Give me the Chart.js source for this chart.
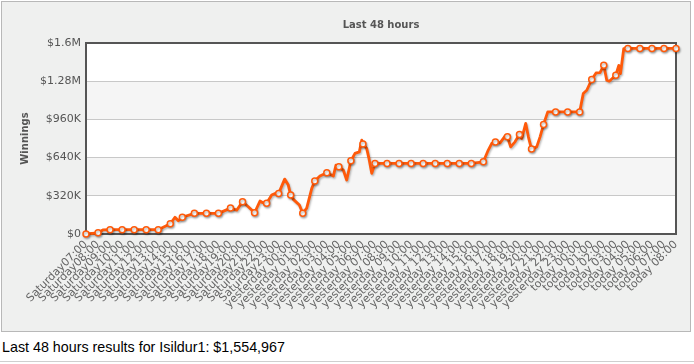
<!DOCTYPE html>
<html>
<head>
<meta charset="utf-8">
<script src="https://cdn.jsdelivr.net/npm/chart.js@4.4.1/dist/chart.umd.min.js"></script>
<style>
  html, body { margin: 0; padding: 0; background: #ffffff; width: 694px; height: 364px; overflow: hidden; }
  #panel { position: absolute; left: 1px; top: 1px; width: 688px; height: 329px; border: 1px solid #b8b8b8; background: #eff0ef; }
  #chart { display: block; }
  #caption { position: absolute; left: 2px; top: 338px; font: 14.3px "Liberation Sans", Arial, sans-serif; color: #000; line-height: 18px; white-space: nowrap; }
  #rule { position: absolute; left: 0; top: 361px; width: 694px; border-top: 1px solid #cfcfcf; }
</style>
</head>
<body>
<div id="panel"><canvas id="chart" width="688" height="329"></canvas></div>
<div id="caption">Last 48 hours results for Isildur1: $1,554,967</div>
<div id="rule"></div>
<script>
const hourLabels = [
  'Saturday07:00','Saturday08:00','Saturday09:00','Saturday10:00','Saturday11:00','Saturday12:00',
  'Saturday13:00','Saturday14:00','Saturday15:00','Saturday16:00','Saturday17:00','Saturday18:00',
  'Saturday19:00','Saturday20:00','Saturday21:00','Saturday22:00','Saturday23:00',
  'yesterday 00:00','yesterday 01:00','yesterday 02:00','yesterday 03:00','yesterday 04:00',
  'yesterday 05:00','yesterday 06:00','yesterday 07:00','yesterday 08:00','yesterday 09:00',
  'yesterday 10:00','yesterday 11:00','yesterday 12:00','yesterday 13:00','yesterday 14:00',
  'yesterday 15:00','yesterday 16:00','yesterday 17:00','yesterday 18:00','yesterday 19:00',
  'yesterday 20:00','yesterday 21:00','yesterday 22:00','yesterday 23:00',
  'today 00:00','today 01:00','today 02:00','today 03:00','today 04:00','today 05:00',
  'today 06:00','today 07:00','today 08:00'
];

const hourlyWinnings = [
  0, 10000, 36000, 36000, 36000, 36000, 36000, 86000, 140000, 173000,
  173000, 173000, 217000, 270000, 178000, 257000, 340000, 326000, 173000, 443000,
  513000, 563000, 613000, 753000, 591000, 591000, 591000, 591000, 591000, 591000,
  591000, 591000, 591000, 605000, 770000, 814000, 834000, 711000, 917000, 1023000,
  1023000, 1023000, 1294000, 1413000, 1330000, 1554967, 1554967, 1554967, 1554967, 1554967
];

const tradeHours = [
  1.4, 7.39, 7.67, 12.52, 13.48, 14.45, 14.68, 15.42, 15.7, 16.5, 16.8, 17.22, 17.72,
  18.33, 18.75, 19.43, 20.54, 20.76, 21.37, 21.65, 22.34, 22.7, 22.9, 23.31, 23.5, 23.73,
  33.41, 33.7, 34.39, 34.8, 35.27, 35.63, 36.19, 36.52, 36.74, 37.43, 37.71, 38.35,
  41.3, 41.59, 42.36, 42.69, 43.25, 43.46, 44.25, 44.39, 44.66
];
const tradeWinnings = [
  34000, 140000, 111000, 200000, 228000, 276000, 262000, 326000, 340000, 460000, 410000, 290000, 243000,
  217000, 382000, 485000, 485000, 577000, 535000, 452000, 675000, 688000, 786000, 717000, 633000, 508000,
  703000, 759000, 764000, 820000, 730000, 772000, 800000, 926000, 814000, 730000, 814000, 1023000,
  1177000, 1204000, 1349000, 1352000, 1288000, 1280000, 1413000, 1344000, 1553000
];

const yTickValues = [0, 320000, 640000, 960000, 1280000, 1600000];
const yTickLabels = ['$0', '$320K', '$640K', '$960K', '$1.28M', '$1.6M'];

const hourlyPoints = hourlyWinnings.map((v, i) => ({ x: i, y: v }));
const linePoints = hourlyPoints
  .concat(tradeHours.map((h, i) => ({ x: h, y: tradeWinnings[i] })))
  .sort((a, b) => a.x - b.x);

const ORANGE = '#ff5a0a';

const bandsPlugin = {
  id: 'bands',
  beforeDraw(chart) {
    const { ctx, chartArea: a, scales: { y } } = chart;
    ctx.save();
    ctx.fillStyle = '#ffffff';
    ctx.fillRect(a.left, a.top, a.width, a.height);
    ctx.fillStyle = '#f5f5f5';
    for (let i = 1; i < yTickValues.length - 1; i += 2) {
      const bottom = y.getPixelForValue(yTickValues[i]);
      const top = y.getPixelForValue(yTickValues[i + 1]);
      ctx.fillRect(a.left, top, a.width, bottom - top);
    }
    ctx.restore();
  }
};

const framePlugin = {
  id: 'frame',
  beforeDatasetsDraw(chart) {
    const { ctx, chartArea: a } = chart;
    ctx.save();
    ctx.strokeStyle = '#555555';
    ctx.lineWidth = 2;
    ctx.strokeRect(a.left, a.top, a.width, a.height);
    ctx.restore();
  }
};

const shadowPlugin = {
  id: 'shadow',
  beforeDatasetDraw(chart) {
    const ctx = chart.ctx;
    ctx.save();
    ctx.shadowColor = 'rgba(0,0,0,0.28)';
    ctx.shadowOffsetX = 1;
    ctx.shadowOffsetY = 1.5;
    ctx.shadowBlur = 2;
  },
  afterDatasetDraw(chart) {
    chart.ctx.restore();
  }
};

Chart.defaults.font.family = '"DejaVu Sans", Verdana, sans-serif';

new Chart(document.getElementById('chart'), {
  type: 'line',
  data: {
    datasets: [
      {
        label: 'Hourly',
        data: hourlyPoints,
        showLine: false,
        pointRadius: 3,
        pointBorderWidth: 1.5,
        pointBackgroundColor: '#ffffff',
        pointBorderColor: ORANGE,
        clip: false,
        order: 0
      },
      {
        label: 'Winnings',
        data: linePoints,
        borderColor: ORANGE,
        borderWidth: 2.8,
        borderJoinStyle: 'round',
        borderCapStyle: 'round',
        tension: 0,
        pointRadius: 0,
        fill: false,
        clip: false,
        order: 1
      }
    ]
  },
  options: {
    responsive: false,
    animation: false,
    layout: { padding: { top: 0, right: 14, bottom: 0, left: 0 } },
    plugins: {
      legend: { display: false },
      tooltip: { enabled: false },
      title: {
        display: true,
        text: 'Last 48 hours',
        fullSize: false,
        color: '#555555',
        font: { size: 10, weight: 'bold' },
        padding: { top: 17, bottom: 12 }
      }
    },
    scales: {
      x: {
        type: 'linear',
        min: 0,
        max: 49,
        afterFit(scale) { scale.height = 97; },
        grid: { display: false, drawTicks: false },
        border: { display: false },
        ticks: {
          stepSize: 1,
          maxTicksLimit: 100,
          autoSkip: false,
          minRotation: 45,
          maxRotation: 45,
          padding: 4,
          color: '#666666',
          font: { size: 11 },
          callback: (v) => hourLabels[v]
        }
      },
      y: {
        min: 0,
        max: 1600000,
        afterFit(scale) { scale.width = 84; },
        grid: { color: '#c8c8c8', drawTicks: false },
        border: { display: false },
        ticks: {
          stepSize: 320000,
          padding: 5,
          color: '#555555',
          font: { size: 11 },
          callback: (v) => yTickLabels[yTickValues.indexOf(v)]
        },
        title: {
          display: true,
          text: 'Winnings',
          color: '#555555',
          font: { size: 10, weight: 'bold' },
          padding: { top: 17, bottom: 0 }
        }
      }
    }
  },
  plugins: [bandsPlugin, framePlugin, shadowPlugin]
});
</script>
</body>
</html>
